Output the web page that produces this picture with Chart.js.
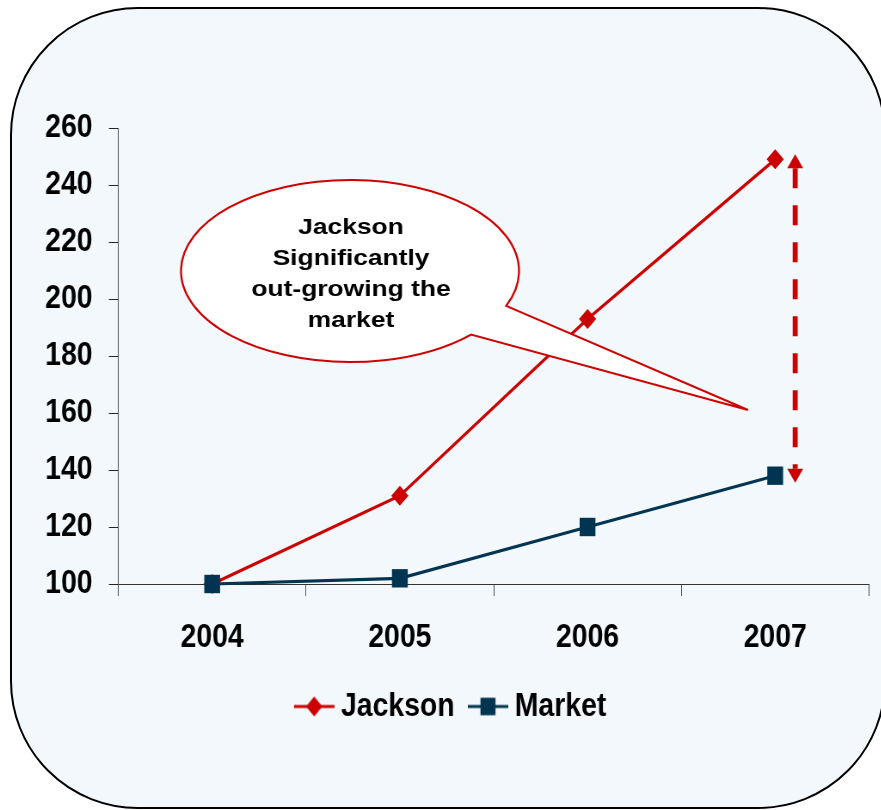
<!DOCTYPE html>
<html><head><meta charset="utf-8">
<script src="https://cdn.jsdelivr.net/npm/chart.js@4.4.0/dist/chart.umd.min.js"></script>
<style>
html,body{margin:0;padding:0;width:881px;height:810px;overflow:hidden;background:#fff;}
#box{position:absolute;left:10px;top:7px;width:876px;height:802px;box-sizing:border-box;border:2px solid #000;border-radius:128px;background:#f2f8fb;}
#wrap{position:absolute;left:0;top:0;width:1024px;height:810px;transform:scaleX(0.86);transform-origin:0 0;}
</style></head><body>
<div id="box"></div>
<div id="wrap"><canvas id="c" width="1024" height="810"></canvas></div>
<script>
// ---- data ----
const categories = ['2004', '2005', '2006', '2007'];
const jacksonValues = [100, 131, 193, 249];
const marketValues = [100, 102, 120, 138];
const yTicks = [100, 120, 140, 160, 180, 200, 220, 240, 260];
const seriesNames = ['Jackson', 'Market'];
const calloutLines = ['Jackson', 'Significantly', 'out-growing the', 'market'];
const gapArrowValues = [249, 138];

// ---- styles ----
const S = 0.86;
const RED = '#cc0000';
const NAVY = '#003450';
const FONT = '"Liberation Sans", Arial, sans-serif';

function legendIcon(color, shape) {
  const c = document.createElement('canvas');
  c.width = 47; c.height = 24;
  const g = c.getContext('2d');
  g.strokeStyle = color; g.lineWidth = 3;
  g.beginPath(); g.moveTo(0, 12); g.lineTo(47, 12); g.stroke();
  g.fillStyle = color; g.beginPath();
  if (shape === 'diamond') {
    g.moveTo(23.5, 2); g.lineTo(33, 12); g.lineTo(23.5, 22); g.lineTo(14, 12); g.closePath();
  } else {
    g.rect(23.5 - 8.75, 12 - 8.75, 17.5, 17.5);
  }
  g.fill();
  return c;
}
const icons = [legendIcon(RED, 'diamond'), legendIcon(NAVY, 'square')];

const overlay = {
  id: 'overlay',
  afterDatasetsDraw(chart) {
    const {ctx, scales: {x, y}} = chart;
    ctx.save();
    ctx.scale(1 / S, 1);
    // dashed double arrow showing the gap
    const ax = x.getPixelForValue(3) * S + 20;
    const yTop = y.getPixelForValue(gapArrowValues[0]) - 5;
    const yBot = y.getPixelForValue(gapArrowValues[1]) + 7;
    const head = 14, hw = 8;
    ctx.strokeStyle = RED; ctx.fillStyle = RED;
    ctx.lineWidth = 5; ctx.setLineDash([20, 17]);
    ctx.beginPath(); ctx.moveTo(ax, yTop + head); ctx.lineTo(ax, yBot - head); ctx.stroke();
    ctx.setLineDash([]);
    ctx.beginPath(); ctx.moveTo(ax, yTop); ctx.lineTo(ax + hw, yTop + head); ctx.lineTo(ax - hw, yTop + head); ctx.closePath(); ctx.fill();
    ctx.beginPath(); ctx.moveTo(ax, yBot); ctx.lineTo(ax + hw, yBot - head); ctx.lineTo(ax - hw, yBot - head); ctx.closePath(); ctx.fill();

    // callout bubble
    const cx = 350, cy = 271, rx = 169, ry = 91;
    const tip = [748, 410];
    const a1 = Math.atan2((306 - cy) / ry, (507 - cx) / rx);
    const a2 = Math.atan2((335 - cy) / ry, (472 - cx) / rx);
    ctx.beginPath();
    ctx.moveTo(tip[0], tip[1]);
    ctx.lineTo(cx + rx * Math.cos(a1), cy + ry * Math.sin(a1));
    ctx.ellipse(cx, cy, rx, ry, 0, a1, a2, true);
    ctx.closePath();
    ctx.fillStyle = '#ffffff'; ctx.fill();
    ctx.strokeStyle = RED; ctx.lineWidth = 2; ctx.lineJoin = 'miter'; ctx.stroke();

    ctx.fillStyle = '#000';
    ctx.font = 'bold 22px ' + FONT;
    ctx.textAlign = 'center'; ctx.textBaseline = 'alphabetic';
    calloutLines.forEach((t, i) => {
      ctx.save();
      ctx.translate(351, 233.5 + i * 31.3);
      ctx.scale(1.2, 1);
      ctx.fillText(t, 0, 0);
      ctx.restore();
    });
    ctx.restore();
  }
};

new Chart(document.getElementById('c'), {
  type: 'line',
  data: {
    labels: categories,
    datasets: [
      {label: seriesNames[0], data: jacksonValues, borderColor: RED, backgroundColor: RED,
       borderWidth: 3.2, pointStyle: 'rectRot', pointRadius: 10, pointBorderWidth: 0,
       pointBackgroundColor: RED, tension: 0, order: 1, clip: false},
      {label: seriesNames[1], data: marketValues, borderColor: NAVY, backgroundColor: NAVY,
       borderWidth: 3.2, pointStyle: 'rect', pointRadius: 13, pointBorderWidth: 0,
       pointBackgroundColor: NAVY, tension: 0, order: 0, clip: false}
    ]
  },
  options: {
    responsive: false,
    animation: false,
    devicePixelRatio: 1,
    events: [],
    layout: {padding: {left: 45, right: 13.5, top: 128, bottom: 77}},
    scales: {
      x: {
        offset: true,
        grid: {offset: true, drawOnChartArea: false, tickLength: 12, color: '#555'},
        border: {color: '#333', width: 1},
        ticks: {font: {size: 33, weight: 'bold', family: FONT}, color: '#000', padding: 22, maxRotation: 0, autoSkip: false},
        afterFit(scale) { scale.height = 82; }
      },
      y: {
        min: yTicks[0], max: yTicks[yTicks.length - 1],
        afterBuildTicks(scale) { scale.ticks = yTicks.map(v => ({value: v})); },
        grid: {drawOnChartArea: false, tickLength: 11, color: '#222'},
        border: {color: '#555', width: 1},
        ticks: {font: {size: 33, weight: 'bold', family: FONT}, color: '#000', padding: 19},
        afterFit(scale) { scale.width = 92.6; }
      }
    },
    plugins: {
      tooltip: {enabled: false},
      legend: {
        position: 'bottom',
        labels: {
          usePointStyle: true,
          pointStyleWidth: 29.5,
          padding: 24,
          color: '#000',
          font: {size: 33, weight: 'bold', family: FONT},
          generateLabels: () => seriesNames.map((n, i) => ({
            text: n, pointStyle: icons[i], datasetIndex: i, hidden: false,
            fillStyle: 'transparent', strokeStyle: 'transparent', lineWidth: 0, fontColor: '#000'
          }))
        }
      }
    }
  },
  plugins: [overlay]
});
</script>
</body></html>
